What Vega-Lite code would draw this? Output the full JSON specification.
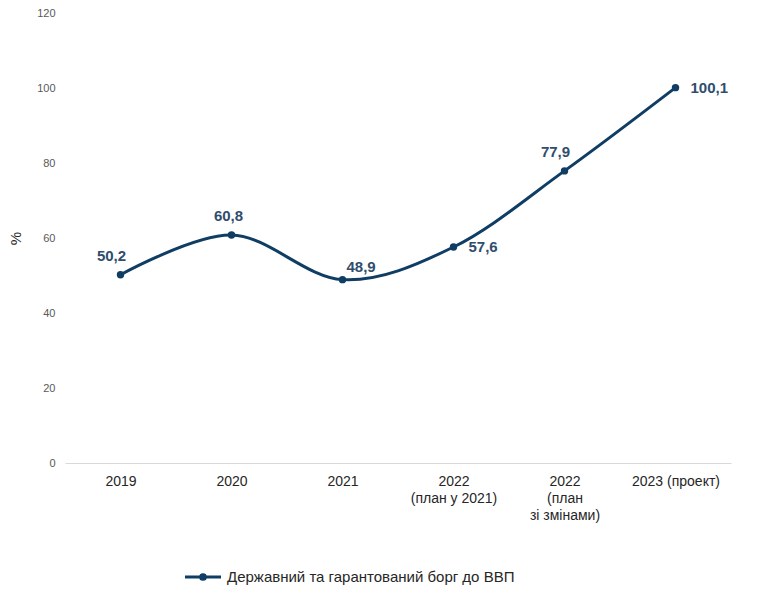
{
  "$schema": "https://vega.github.io/schema/vega-lite/v6.json",
  "width": 666,
  "height": 450,
  "autosize": "none",
  "padding": {"left": 65, "top": 13, "right": 33, "bottom": 136},
  "background": "white",
  "config": {
    "view": {"stroke": null},
    "font": "Liberation Sans"
  },
  "data": {
    "values": [
      {"period": "2019", "value": 50.2, "label": "50,2", "pos": "upleft"},
      {"period": "2020", "value": 60.8, "label": "60,8", "pos": "up"},
      {"period": "2021", "value": 48.9, "label": "48,9", "pos": "upright"},
      {"period": "2022 (план у 2021)", "value": 57.6, "label": "57,6", "pos": "right"},
      {"period": "2022 (план зі змінами)", "value": 77.9, "label": "77,9", "pos": "upleft"},
      {"period": "2023 (проект)", "value": 100.1, "label": "100,1", "pos": "right"}
    ]
  },
  "encoding": {
    "x": {
      "field": "period",
      "type": "nominal",
      "sort": null,
      "scale": {"paddingInner": 0, "paddingOuter": 0.5},
      "axis": {
        "title": null,
        "labelAngle": 0,
        "labelExpr": "datum.value == '2022 (план у 2021)' ? ['2022', '(план у 2021)'] : datum.value == '2022 (план зі змінами)' ? ['2022', '(план', 'зі змінами)'] : datum.value",
        "labelFontSize": 14,
        "labelColor": "#262626",
        "labelPadding": 11,
        "labelLineHeight": 17,
        "labelLimit": 200,
        "ticks": false,
        "domainColor": "#d9d9d9",
        "domainWidth": 1,
        "grid": false
      }
    },
    "y": {
      "field": "value",
      "type": "quantitative",
      "scale": {"domain": [0, 120]},
      "axis": {
        "title": "%",
        "titleAngle": -90,
        "titleFontSize": 15,
        "titleFontWeight": "normal",
        "titleColor": "#262626",
        "titlePadding": 13,
        "values": [0, 20, 40, 60, 80, 100, 120],
        "labelFontSize": 11,
        "labelColor": "#595959",
        "labelPadding": 10,
        "ticks": false,
        "domain": false,
        "grid": false
      }
    }
  },
  "layer": [
    {
      "mark": {
        "type": "line",
        "interpolate": "cardinal",
        "strokeWidth": 3,
        "point": {"filled": true, "size": 55, "color": "#0f3d63"}
      },
      "encoding": {
        "color": {
          "datum": "Державний та гарантований борг до ВВП",
          "type": "nominal",
          "scale": {"range": ["#0f3d63"]},
          "legend": {
            "title": null,
            "orient": "none",
            "legendX": 118,
            "legendY": 544,
            "symbolType": "M-1,0H1M-0.13,0a0.13,0.13 0 1,0 0.26,0a0.13,0.13 0 1,0 -0.26,0",
            "symbolSize": 1300,
            "symbolStrokeWidth": 3,
            "symbolFillColor": "#0f3d63",
            "symbolStrokeColor": "#0f3d63",
            "labelFontSize": 15,
            "labelLimit": 400,
            "labelColor": "#262626",
            "labelOffset": 4
          }
        }
      }
    },
    {
      "transform": [{"filter": "datum.pos == 'upleft'"}],
      "mark": {"type": "text", "align": "center", "baseline": "middle", "dx": -9, "dy": -19, "fontSize": 15, "fontWeight": "bold", "color": "#2f4d6d"},
      "encoding": {"text": {"field": "label"}}
    },
    {
      "transform": [{"filter": "datum.pos == 'up'"}],
      "mark": {"type": "text", "align": "center", "baseline": "middle", "dx": -3, "dy": -19, "fontSize": 15, "fontWeight": "bold", "color": "#2f4d6d"},
      "encoding": {"text": {"field": "label"}}
    },
    {
      "transform": [{"filter": "datum.pos == 'upright'"}],
      "mark": {"type": "text", "align": "left", "baseline": "middle", "dx": 4, "dy": -13, "fontSize": 15, "fontWeight": "bold", "color": "#2f4d6d"},
      "encoding": {"text": {"field": "label"}}
    },
    {
      "transform": [{"filter": "datum.pos == 'right'"}],
      "mark": {"type": "text", "align": "left", "baseline": "middle", "dx": 15, "dy": 0, "fontSize": 15, "fontWeight": "bold", "color": "#2f4d6d"},
      "encoding": {"text": {"field": "label"}}
    }
  ]
}
